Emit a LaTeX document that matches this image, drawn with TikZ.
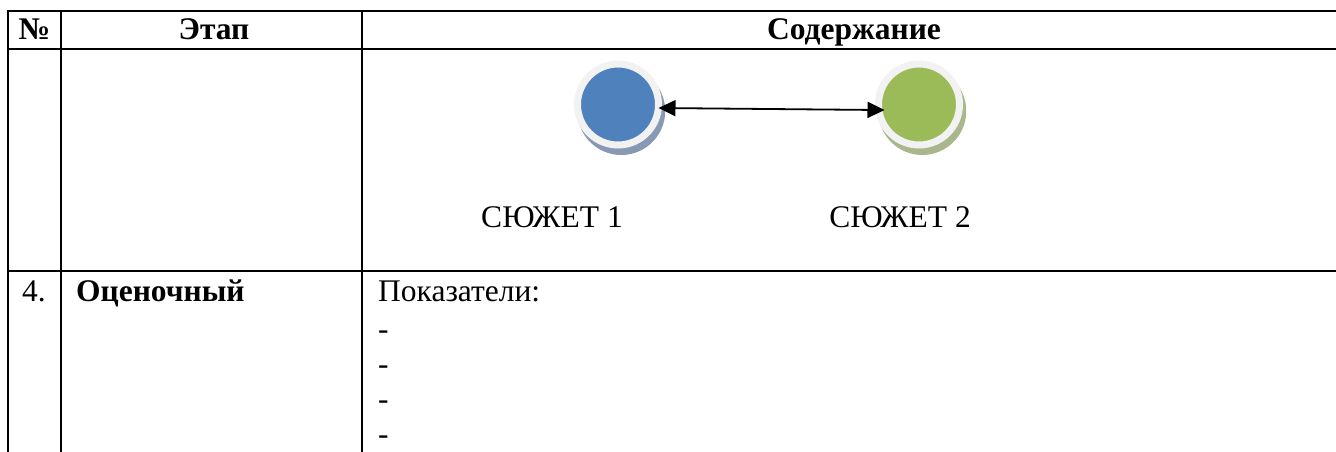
\documentclass[tikz,border=0pt]{standalone}
\usepackage{fontspec}
\setmainfont{Liberation Serif}
\usepackage{xcolor}
\usepackage{tikz}
\usetikzlibrary{arrows.meta, shadows, calc}

\definecolor{storyblue}{RGB}{79,129,189}
\definecolor{storygreen}{RGB}{155,187,89}
\definecolor{ringgray}{RGB}{242,242,242}
\definecolor{shadeblue}{RGB}{136,153,180}
\definecolor{shadegreen}{RGB}{170,182,140}

\begin{document}
\begin{tikzpicture}[x=1pt, y=-1pt,
    rule/.style={line width=1.6pt, line cap=rect},
    txt/.style={anchor=base, inner sep=0pt, font=\fontsize{31.5}{36}\selectfont},
    head/.style={txt, font=\fontsize{31.5}{36}\selectfont\bfseries},
    story/.style 2 args={circle, minimum size=81pt, inner sep=0pt, outer sep=0pt,
        line width=7pt, draw=ringgray, fill=#1,
        drop shadow={shadow xshift=3pt, shadow yshift=-6pt, shadow scale=1.086, fill=#2, opacity=1}},
    link/.style={{Triangle[length=17pt,width=16pt]}-{Triangle[length=17pt,width=16pt]}, line width=1.8pt}]
            \useasboundingbox (0,0) rectangle (1336,452);
            % table rules
            \draw[rule] (8,11) -- (1336,11);
            \draw[rule] (8,49) -- (1336,49);
            \draw[rule] (8,271) -- (1336,271);
            \foreach \x in {8,61,362} \draw[rule] (\x,11) -- (\x,452);
            % header
            \node[head] (num) at (34.5,40) {№};
            \node[head] (stage) at (214,40) {Этап};
            \node[head] (content) at (854,40) {Содержание};
            % stories
            \node[story={storyblue}{shadeblue}] (s1) at (618,104.5) {};
            \node[story={storygreen}{shadegreen}] (s2) at (919,104.5) {};
            \draw[link, shorten >=-6pt] ([yshift=-3.5pt]s1.east) -- ([yshift=-5.5pt]s2.west);
            \node[txt] (l1) at (552,227) {СЮЖЕТ 1};
            \node[txt] (l2) at (900,227) {СЮЖЕТ 2};
            % row 4
            \node[txt, anchor=base west] (n4) at (22,301) {4.};
            \node[head, anchor=base west] (eval) at (76,301) {Оценочный};
            \node[txt, anchor=base west] (ind) at (378,301) {Показатели:};
            \foreach \y [count=\i] in {339,374,409,444} \node[txt, anchor=base west] (d\i) at (378,\y) {-};
        \end{tikzpicture}
\end{document}
